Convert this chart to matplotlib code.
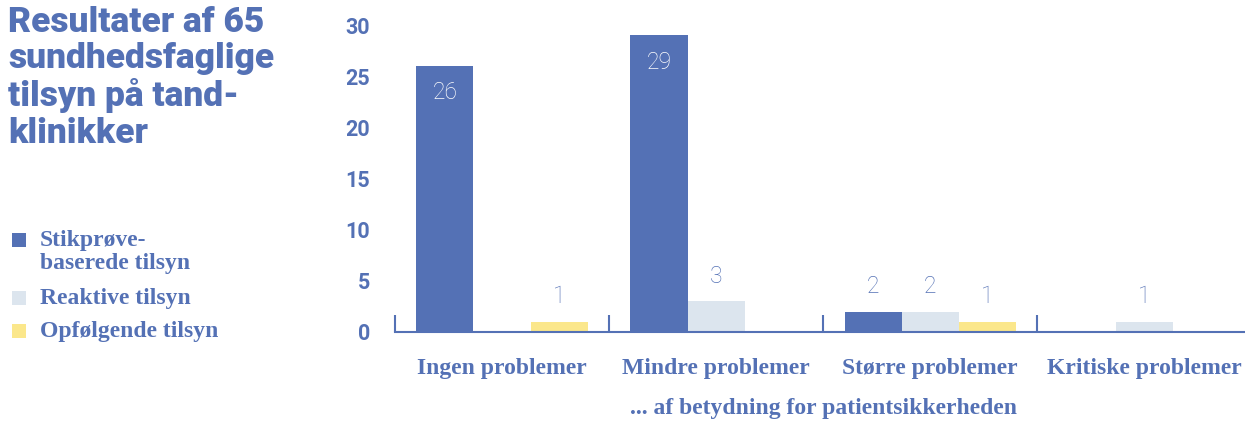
import numpy as np
import matplotlib
matplotlib.use("Agg")
import matplotlib.pyplot as plt
from matplotlib.patches import Rectangle

# data
categories = ["Ingen problemer", "Mindre problemer", "Større problemer", "Kritiske problemer"]
stikproeve = [26, 29, 2, 0]
reaktive = [0, 3, 2, 1]
opfoelgende = [1, 0, 1, 0]
series_names = ["Stikprøve-\nbaserede tilsyn", "Reaktive tilsyn", "Opfølgende tilsyn"]

blue = "#5471b5"
lightblue = "#dce5ee"
yellow = "#fbe78b"
colors = [blue, lightblue, yellow]
serif = "Liberation Serif"

fig = plt.figure(figsize=(12.45, 4.21), dpi=100)
ax = fig.add_axes([395 / 1245, 89 / 421, 850 / 1245, 307 / 421])

x = np.arange(len(categories))
w = 0.267
series = [stikproeve, reaktive, opfoelgende]
for i, (vals, c) in enumerate(zip(series, colors)):
    bars = ax.bar(x + (i - 1) * w, vals, width=w, color=c, zorder=2)
    for b, v in zip(bars, vals):
        if v == 0:
            continue
        cx = b.get_x() + b.get_width() / 2
        if v > 10:
            ax.text(cx, v - 1.5, str(v), ha="center", va="top", color="white",
                    fontsize=16.5, fontweight="light", family="Roboto")
        else:
            ax.text(cx, v + 1.3, str(v), ha="center", va="bottom", color=blue,
                    fontsize=16.5, fontweight="light", family="Roboto")

ax.set_xlim(-0.5, 3.47)
ax.set_ylim(0, 30)
ax.set_yticks([0, 5, 10, 15, 20, 25, 30])
for s in ["top", "right", "left"]:
    ax.spines[s].set_visible(False)
ax.spines["bottom"].set_color(blue)
ax.spines["bottom"].set_linewidth(1.5)

ax.set_xticks(x)
ax.set_xticklabels(categories, fontsize=17, fontweight="bold", family=serif,
                   color=blue)
ax.set_xticks([-0.5, 0.5, 1.5, 2.5], minor=True)
ax.tick_params(axis="x", which="major", length=0, pad=19)
ax.tick_params(axis="x", which="minor", direction="in", length=12, width=1.5, color=blue)
ax.tick_params(axis="y", length=0, pad=18, labelsize=15.5, labelcolor=blue)
for lab in ax.get_yticklabels():
    lab.set_fontweight("bold")
    lab.set_family("Roboto")

ax.text(1.5, -0.215, "... af betydning for patientsikkerheden", transform=ax.get_xaxis_transform(),
        ha="center", va="top", fontsize=17, fontweight="bold", family=serif,
        color=blue)

# title
fig.text(8 / 1245, 1 - 6 / 421, "Resultater af 65\nsundhedsfaglige\ntilsyn på tand-\nklinikker",
         ha="left", va="top", fontsize=25.5, fontweight="black", family="Roboto",
         color=blue, linespacing=1.12)

# legend, drawn by hand so the square sits on the first text line
legend_y = [240, 298, 331]  # pixel rows of the first text line
for name, c, yy in zip(series_names, colors, legend_y):
    fig.patches.append(Rectangle((12 / 1245, 1 - (yy + 7) / 421), 14 / 1245, 14 / 421,
                                 transform=fig.transFigure, facecolor=c, edgecolor="none"))
    fig.text(40 / 1245, 1 - (yy - 10) / 421, name, ha="left", va="top", fontsize=17,
             fontweight="bold", family=serif, color=blue, linespacing=1.15)

fig.savefig("out.png", dpi=100)
